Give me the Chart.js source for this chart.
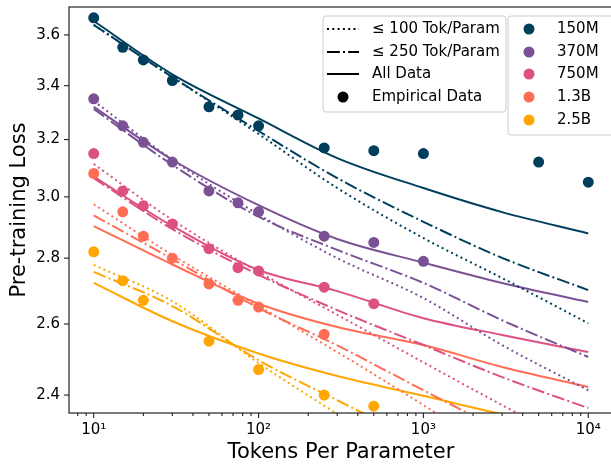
<!DOCTYPE html>
<html>
<head>
<meta charset="utf-8">
<script src="https://cdn.jsdelivr.net/npm/chart.js@4.4.0/dist/chart.umd.min.js"></script>
<style>
html, body { margin: 0; padding: 0; background: #fff; overflow: hidden; }
#wrap { width: 620px; height: 465px; }
</style>
</head>
<body>
<div id="wrap"><canvas id="mycanvas"></canvas></div>
<script>
// model sizes and colours
var modelNames = ['150M', '370M', '750M', '1.3B', '2.5B'];
var modelColors = ['#003f5c', '#7a5195', '#dd5182', '#ff6e54', '#ffa600'];

// empirical points (tokens per parameter, loss)
var empX150 = [10, 15, 20, 30, 50, 75, 100, 250, 500, 1000, 5000, 10000];
var loss150 = [3.67, 3.55, 3.50, 3.42, 3.32, 3.29, 3.25, 3.17, 3.16, 3.15, 3.12, 3.05];
var empX370 = [10, 15, 20, 30, 50, 75, 100, 250, 500, 1000];
var loss370 = [3.35, 3.25, 3.19, 3.12, 3.02, 2.98, 2.95, 2.87, 2.85, 2.79];
var empX750 = [10, 15, 20, 30, 50, 75, 100, 250, 500];
var loss750 = [3.15, 3.02, 2.97, 2.91, 2.83, 2.77, 2.76, 2.71, 2.66];
var empX1300 = [10, 15, 20, 30, 50, 75, 100, 250];
var loss1300 = [3.08, 2.95, 2.87, 2.80, 2.72, 2.67, 2.65, 2.57];
var empX2500 = [10, 15, 20, 50, 100, 250, 500];
var loss2500 = [2.82, 2.73, 2.67, 2.55, 2.47, 2.40, 2.37];

// fitted curves read at these x values
var fitX = [10, 30, 100, 300, 1000, 3000, 10000];
var fit150All = [3.657, 3.444, 3.277, 3.134, 3.030, 2.949, 2.879];
var fit150Le250 = [3.641, 3.433, 3.231, 3.064, 2.917, 2.801, 2.701];
var fit150Le100 = [3.641, 3.433, 3.220, 3.030, 2.864, 2.738, 2.602];
var fit370All = [3.320, 3.128, 2.972, 2.861, 2.786, 2.723, 2.665];
var fit370Le250 = [3.312, 3.110, 2.934, 2.826, 2.723, 2.611, 2.505];
var fit370Le100 = [3.342, 3.128, 2.941, 2.800, 2.677, 2.539, 2.413];
var fit750All = [3.069, 2.903, 2.763, 2.698, 2.617, 2.568, 2.519];
var fit750Le250 = [3.064, 2.893, 2.748, 2.641, 2.539, 2.449, 2.365];
var fit750Le100 = [3.113, 2.923, 2.757, 2.627, 2.490, 2.373, 2.256];
var fit1300All = [2.903, 2.780, 2.660, 2.591, 2.539, 2.477, 2.422];
var fit1300Le250 = [2.938, 2.797, 2.647, 2.538, 2.413, 2.307, 2.206];
var fit1300Le100 = [2.975, 2.810, 2.653, 2.519, 2.373, 2.243, 2.121];
var fit2500All = [2.723, 2.608, 2.515, 2.452, 2.398, 2.349, 2.307];
var fit2500Le250 = [2.757, 2.653, 2.496, 2.386, 2.273, 2.174, 2.071];
var fit2500Le100 = [2.779, 2.667, 2.488, 2.349, 2.203, 2.080, 1.953];

// axis ticks
var yTickVals = [2.4, 2.6, 2.8, 3.0, 3.2, 3.4, 3.6];
var xMajor = [10, 100, 1000, 10000];
var xMinor = [8, 9, 20, 30, 40, 50, 60, 70, 80, 90, 200, 300, 400, 500, 600, 700, 800, 900,
	2000, 3000, 4000, 5000, 6000, 7000, 8000, 9000];
var xLabels = {10: '10\u00b9', 100: '10\u00b2', 1000: '10\u00b3', 10000: '10\u2074'};

var FONT = 'DejaVu Sans';
Chart.defaults.font.family = FONT;

var empirical = [[empX150, loss150], [empX370, loss370], [empX750, loss750], [empX1300, loss1300], [empX2500, loss2500]];
var fits = [
	[fit150All, fit150Le250, fit150Le100],
	[fit370All, fit370Le250, fit370Le100],
	[fit750All, fit750Le250, fit750Le100],
	[fit1300All, fit1300Le250, fit1300Le100],
	[fit2500All, fit2500Le250, fit2500Le100]
];

function pts(xs, ys) {
	var out = [];
	for (var i = 0; i < xs.length; i++) out.push({x: xs[i], y: ys[i]});
	return out;
}

var DOTTED = [2, 3.3];
var DASHDOT = [12.8, 3.2, 2, 3.2];

var datasets = [];
for (var m = 0; m < modelNames.length; m++) {
	datasets.push({
		label: modelNames[m],
		data: pts(empirical[m][0], empirical[m][1]),
		showLine: false,
		pointRadius: 5.5,
		pointHoverRadius: 5.5,
		pointBorderWidth: 0,
		backgroundColor: modelColors[m],
		borderColor: modelColors[m]
	});
}
var styles = [[], DASHDOT, DOTTED];
for (var m = 0; m < modelNames.length; m++) {
	for (var k = 0; k < 3; k++) {
		datasets.push({
			label: modelNames[m] + ' fit ' + k,
			data: pts(fitX, fits[m][k]),
			showLine: true,
			pointRadius: 0,
			borderWidth: 2,
			borderDash: styles[k],
			borderColor: modelColors[m],
			backgroundColor: modelColors[m],
			cubicInterpolationMode: 'monotone',
			fill: false
		});
	}
}

// frame, tick marks and the two legend boxes
var decorPlugin = {
	id: 'decor',
	afterDatasetsDraw: function(chart) {
		var ctx = chart.ctx, a = chart.chartArea;
		var xs = chart.scales.x, ys = chart.scales.y;
		ctx.save();
		ctx.strokeStyle = '#222';
		ctx.lineWidth = 1.1;
		xs.ticks.forEach(function(t) {
			var px = xs.getPixelForValue(t.value);
			if (px < a.left - 0.5 || px > a.right + 0.5) return;
			var len = t.major ? 5 : 3;
			ctx.beginPath();
			ctx.moveTo(px, a.bottom);
			ctx.lineTo(px, a.bottom + len);
			ctx.stroke();
		});
		ys.ticks.forEach(function(t) {
			var py = ys.getPixelForValue(t.value);
			ctx.beginPath();
			ctx.moveTo(a.left, py);
			ctx.lineTo(a.left - 5, py);
			ctx.stroke();
		});
		ctx.lineWidth = 1.2;
		ctx.strokeRect(a.left, a.top, a.right - a.left, a.bottom - a.top);
		ctx.restore();
	},
	afterDraw: function(chart) {
		var ctx = chart.ctx;
		ctx.save();
		function box(x, y, w, h) {
			var r = 3;
			ctx.beginPath();
			ctx.moveTo(x + r, y);
			ctx.lineTo(x + w - r, y);
			ctx.quadraticCurveTo(x + w, y, x + w, y + r);
			ctx.lineTo(x + w, y + h - r);
			ctx.quadraticCurveTo(x + w, y + h, x + w - r, y + h);
			ctx.lineTo(x + r, y + h);
			ctx.quadraticCurveTo(x, y + h, x, y + h - r);
			ctx.lineTo(x, y + r);
			ctx.quadraticCurveTo(x, y, x + r, y);
			ctx.closePath();
			ctx.fillStyle = 'rgba(255,255,255,0.8)';
			ctx.fill();
			ctx.strokeStyle = '#cccccc';
			ctx.lineWidth = 1;
			ctx.stroke();
		}
		ctx.font = '15px "' + FONT + '"';
		ctx.textBaseline = 'middle';
		ctx.textAlign = 'left';

		box(323, 16, 183, 96);
		var rows = [29, 52, 74, 97, 120];
		var names = ['\u2264 100 Tok/Param', '\u2264 250 Tok/Param', 'All Data', 'Empirical Data'];
		var dashes = [DOTTED, DASHDOT, []];
		for (var i = 0; i < 4; i++) {
			ctx.strokeStyle = '#000';
			ctx.fillStyle = '#000';
			if (i < 3) {
				ctx.setLineDash(dashes[i]);
				ctx.lineWidth = 2;
				ctx.beginPath();
				ctx.moveTo(327, rows[i]);
				ctx.lineTo(359, rows[i]);
				ctx.stroke();
				ctx.setLineDash([]);
			} else {
				ctx.beginPath();
				ctx.arc(343, rows[i], 5.5, 0, Math.PI * 2);
				ctx.fill();
			}
			ctx.fillText(names[i], 372, rows[i]);
		}

		box(508, 16, 110, 119);
		for (var j = 0; j < modelNames.length; j++) {
			ctx.fillStyle = modelColors[j];
			ctx.beginPath();
			ctx.arc(529, rows[j], 5.5, 0, Math.PI * 2);
			ctx.fill();
			ctx.fillStyle = '#000';
			ctx.fillText(modelNames[j], 557, rows[j]);
		}
		ctx.restore();
	}
};

var xTickVals = xMajor.concat(xMinor).sort(function(a, b) { return a - b; });

var ctx = document.getElementById('mycanvas');
var chart = new Chart(ctx, {
	type: 'line',
	data: {datasets: datasets},
	options: {
		responsive: true,
		maintainAspectRatio: false,
		animation: false,
		layout: {padding: {top: 7, right: 7, bottom: 0, left: 0}},
		plugins: {legend: {display: false}, tooltip: {enabled: false}},
		scales: {
			x: {
				type: 'logarithmic',
				min: 7.08,
				max: 14125,
				afterFit: function(s) { s.height = 52; s.paddingLeft = 0; s.paddingRight = 0; },
				afterBuildTicks: function(s) {
					s.ticks = xTickVals.map(function(v) { return {value: v, major: xMajor.indexOf(v) >= 0}; });
				},
				ticks: {
					autoSkip: false,
					maxRotation: 0,
					padding: 8,
					color: '#000',
					font: {size: 15},
					callback: function(v) { return xLabels[v] || ''; }
				},
				grid: {display: false, drawTicks: false},
				border: {display: false},
				title: {display: true, text: 'Tokens Per Parameter', color: '#000', font: {size: 21}, padding: {top: 0, bottom: 0}}
			},
			y: {
				type: 'logarithmic',
				min: 2.352,
				max: 3.715,
				afterFit: function(s) { s.width = 69; s.paddingTop = 0; s.paddingBottom = 0; },
				afterBuildTicks: function(s) {
					s.ticks = yTickVals.map(function(v) { return {value: v}; });
				},
				ticks: {
					padding: 9,
					color: '#000',
					font: {size: 15},
					callback: function(v) { return Number(v).toFixed(1); }
				},
				grid: {display: false, drawTicks: false},
				border: {display: false},
				title: {display: true, text: 'Pre-training Loss', color: '#000', font: {size: 21}, padding: {top: 7, bottom: 0}}
			}
		}
	},
	plugins: [decorPlugin]
});
</script>
</body>
</html>
